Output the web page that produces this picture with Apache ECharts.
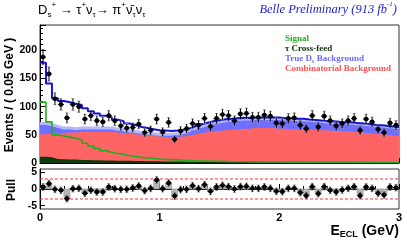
<!DOCTYPE html>
<html><head><meta charset="utf-8">
<script src="https://cdn.jsdelivr.net/npm/echarts@6/dist/echarts.min.js"></script>
<style>html,body{margin:0;padding:0;background:#fff}#c{width:407px;height:241px}</style>
</head><body><div id="c"></div>
<script>
// ---- data (60 bins of 0.05 GeV, E_ECL 0..3 GeV) ----
const binWidth = 0.05;
const nBins = 60;
const dataCounts = [188,158,114,104,80,104,100,78,84,75,73,84,75,66,62,63,69,54,58,78,55,72,42,57,61,70,67,79,65,79,86,84,75,87,88,81,81,85,83,71,70,79,80,67,61,84,64,83,75,66,70,75,79,58,78,73,60,54,71,67];
const crossFeed = [11,10,7,6.5,6,6,5.5,5.5,5,5,4.5,4.5,4,4,4,3.5,3.5,3,3,3,2.5,2.5,2.5,2.5,2,2,2,2,2,2,1.8,1.8,1.6,1.6,1.5,1.5,1.4,1.4,1.3,1.3,1.2,1.2,1.1,1.1,1,1,1,1,0.9,0.9,0.8,0.8,0.8,0.7,0.7,0.7,0.6,0.6,0.6,0.5];
const combinatorial = [40,42,46,46.5,48,48,49.5,49.5,50,50,50.5,50.5,50,49,48,47.5,46.5,46,45,44,43.5,43.5,43.5,44.5,47,49,51,53,54,55,56.2,57.2,58.4,59.4,59.5,60.5,60.6,60.6,60.7,59.7,59.8,58.8,58.9,58.9,58,58,57,57,56.1,56.1,55.2,55.2,54.2,53.3,52.3,51.3,50.4,49.4,48.4,47.5];
const trueDs = [19,16,12,9,8,7,7,7,7,7,7,7,6,6,5,5,4,4,4,4,5,5,6,7,8,10,12,13,15,16,17,17,17,17,17,17,17,17,17,18,17,18,17,17,17,16,16,15,16,15,15,15,15,15,15,15,15,15,15,15];
const signal = [108,73,50,48,46,44,41,35,30,26,22,19,17,15,13,11.5,10,9,8,7,6.5,6,5.5,5,4.5,4,3.6,3.3,3,2.8,2.6,2.4,2.3,2.2,2.1,2,1.9,1.8,1.7,1.7,1.6,1.6,1.5,1.5,1.4,1.4,1.3,1.3,1.3,1.2,1.2,1.2,1.1,1.1,1.1,1,1,1,1,1];
const pulls = [0.6,1.6,-0.1,-0.4,-2.9,0.1,0.2,-1.3,-0.4,-0.9,-0.9,0.6,0.1,-0.1,-0.1,0.3,0.9,-0.5,0.2,2.7,0.1,1.8,-2.1,-0.2,-0.1,1.0,0.1,1.3,-0.7,0.6,1.1,0.7,0,0.7,0.8,0.2,0.2,0.6,0.2,-0.7,-0.8,0.2,0.2,-1.1,-2.0,0.7,-1.4,0.7,-0.4,-0.9,-0.3,0.2,0.7,-2.0,0.6,0.2,-1.3,-1.8,0.6,0.4];
const yTickLabels = [0,50,100,150,200];
const pullTickLabels = [-5,0,5];
const pullBand = 3;

// ---- helpers ----
const centers = dataCounts.map((_, i) => (i + 0.5) * binWidth);
function hist(vals) {
  const out = vals.map((v, i) => [i * binWidth, v]);
  out.push([nBins * binWidth, vals[nBins - 1]]);
  return out;
}
// cumulative stack tops (drawn from zero, back to front)
const cfTop = crossFeed.slice();
const combTop = crossFeed.map((v, i) => v + combinatorial[i]);
const bgTop = combTop.map((v, i) => v + trueDs[i]);
const total = bgTop.map((v, i) => v + signal[i]);

const SANS = 'Liberation Sans, Arial, sans-serif';
const SERIF = 'Liberation Serif, Times New Roman, serif';

function pointItem(params, api) {
  const x = api.value(0), y = api.value(1), e = api.value(2);
  const c = api.coord([x, y]);
  const lo = api.coord([x, y - e]), hi = api.coord([x, y + e]);
  const l = api.coord([x - binWidth / 2, y]), r = api.coord([x + binWidth / 2, y]);
  return {type: 'group', children: [
    {type: 'line', shape: {x1: c[0] - 1.5, y1: hi[1], x2: c[0] + 1.5, y2: hi[1]}, style: {stroke: '#999', lineWidth: 1}},
    {type: 'line', shape: {x1: c[0] - 1.5, y1: lo[1], x2: c[0] + 1.5, y2: lo[1]}, style: {stroke: '#999', lineWidth: 1}},
    {type: 'line', shape: {x1: c[0], y1: hi[1], x2: c[0], y2: lo[1]}, style: {stroke: '#000', lineWidth: 1}},
    {type: 'line', shape: {x1: l[0], y1: c[1], x2: r[0], y2: c[1]}, style: {stroke: '#000', lineWidth: 1}},
    {type: 'circle', shape: {cx: c[0], cy: c[1], r: 2.4}, style: {fill: '#000'}}
  ]};
}
function pullBar(params, api) {
  const x = api.value(0), p = api.value(1);
  const a = api.coord([x - binWidth / 2, 0]), b = api.coord([x + binWidth / 2, p]);
  return {type: 'rect', shape: {x: a[0], y: Math.min(a[1], b[1]), width: b[0] - a[0], height: Math.abs(b[1] - a[1])},
          style: {fill: '#b8b8b8', stroke: '#8a8a8a', lineWidth: 0.6}};
}
function areaSeries(name, vals, color, z) {
  return {name: name, type: 'line', xAxisIndex: 0, yAxisIndex: 0, step: 'end', symbol: 'none',
    data: hist(vals), lineStyle: {width: 0}, areaStyle: {color: color, opacity: 1, origin: 'start'}, z: z};
}

const chart = echarts.init(document.getElementById('c'), null, {renderer: 'canvas'});
const axisCommon = {
  axisLine: {show: true, lineStyle: {color: '#000', width: 1}},
  splitLine: {show: false},
};
chart.setOption({
  animation: false,
  backgroundColor: '#fff',
  grid: [
    {left: 40, right: 8, top: 25, height: 138, show: true, borderColor: '#333', borderWidth: 1},
    {left: 40, right: 8, top: 169, height: 40, show: true, borderColor: '#333', borderWidth: 1}
  ],
  xAxis: [
    Object.assign({gridIndex: 0, type: 'value', min: 0, max: 3, interval: 1,
      axisLabel: {show: false},
      axisTick: {show: true, inside: true, length: 5, lineStyle: {color: '#000'}},
      minorTick: {show: true, splitNumber: 5, length: 3, lineStyle: {color: '#000'}}}, axisCommon),
    Object.assign({gridIndex: 1, type: 'value', min: 0, max: 3, interval: 1,
      axisLabel: {show: true, fontSize: 11, fontWeight: 'bold', fontFamily: SANS, color: '#000', margin: 3},
      axisTick: {show: true, inside: true, length: 5, lineStyle: {color: '#000'}},
      minorTick: {show: true, splitNumber: 5, length: 3, lineStyle: {color: '#000'}}}, axisCommon)
  ],
  yAxis: [
    Object.assign({gridIndex: 0, type: 'value', min: 0, max: 245, interval: 50,
      axisLabel: {show: true, customValues: yTickLabels, fontSize: 10.5, fontWeight: 'bold', fontFamily: SANS, color: '#000', margin: 3},
      axisTick: {show: true, inside: true, length: 6, lineStyle: {color: '#000'}},
      minorTick: {show: true, splitNumber: 5, length: 3, lineStyle: {color: '#000'}}}, axisCommon),
    Object.assign({gridIndex: 1, type: 'value', min: -6, max: 6,
      axisLabel: {show: true, customValues: pullTickLabels, fontSize: 10.5, fontWeight: 'bold', fontFamily: SANS, color: '#000', margin: 3},
      axisTick: {show: true, inside: true, length: 5, customValues: pullTickLabels, lineStyle: {color: '#000'}}}, axisCommon)
  ],
  series: [
    areaSeries('trueDs', bgTop, '#6f6fff', 1),
    areaSeries('comb', combTop, '#ff6464', 2),
    areaSeries('crossfeed', cfTop, '#0b3a0b', 3),
    {name: 'band', type: 'line', xAxisIndex: 0, yAxisIndex: 0, step: 'end', symbol: 'none',
      data: hist(bgTop), lineStyle: {width: 3, color: '#b4b8ff'}, z: 4},
    {name: 'signal', type: 'line', xAxisIndex: 0, yAxisIndex: 0, step: 'end', symbol: 'none',
      data: hist(signal), lineStyle: {width: 1.6, color: '#1fae1f'}, z: 5},
    {name: 'total', type: 'line', xAxisIndex: 0, yAxisIndex: 0, step: 'end', symbol: 'none',
      data: hist(total), lineStyle: {width: 2, color: '#1414d8'}, z: 6},
    {name: 'data', type: 'custom', xAxisIndex: 0, yAxisIndex: 0, renderItem: pointItem, clip: true,
      data: dataCounts.map((v, i) => [centers[i], v, Math.sqrt(v)]), z: 7},
    {name: 'pullbars', type: 'custom', xAxisIndex: 1, yAxisIndex: 1, renderItem: pullBar, clip: true,
      data: pulls.map((p, i) => [centers[i], p]), z: 2},
    {name: 'plus3', type: 'line', xAxisIndex: 1, yAxisIndex: 1, symbol: 'none',
      data: [[0, pullBand], [3, pullBand]], lineStyle: {color: '#ff3030', width: 1, type: [3, 2]}, z: 3},
    {name: 'minus3', type: 'line', xAxisIndex: 1, yAxisIndex: 1, symbol: 'none',
      data: [[0, -pullBand], [3, -pullBand]], lineStyle: {color: '#ff3030', width: 1, type: [3, 2]}, z: 3},
    {name: 'pullpts', type: 'custom', xAxisIndex: 1, yAxisIndex: 1, renderItem: pointItem, clip: true,
      data: pulls.map((p, i) => [centers[i], p, 1]), z: 4}
  ],
  graphic: [
    {type: 'text', left: 38, top: 1, style: {
      text: '{m|D}{sb|s}{sp|+}{m| → τ}{sp|+}{m|ν}{sb|τ}{m|→ π}{sp|+}{m|ν̄}{sb|τ}{m|ν}{sb|τ}',
      rich: {
        m: {fontSize: 13, fontFamily: SANS, fill: '#000', lineHeight: 18},
        sp: {fontSize: 8, fontFamily: SANS, fill: '#000', verticalAlign: 'top', lineHeight: 9},
        sb: {fontSize: 8, fontFamily: SANS, fill: '#000', verticalAlign: 'bottom', lineHeight: 9}
      }}},
    {type: 'text', right: 10, top: 1, style: {
      text: '{i|Belle Preliminary (913 fb}{s|-1}{i|)}',
      rich: {
        i: {fontSize: 12.5, fontFamily: SERIF, fontStyle: 'italic', fill: '#1c1cd0', lineHeight: 18},
        s: {fontSize: 7, fontFamily: SERIF, fontStyle: 'italic', fill: '#1c1cd0', verticalAlign: 'top', lineHeight: 9}
      }}},
    {type: 'text', left: 285, top: 34, style: {text: 'Signal', font: 'bold 9px ' + SERIF, fill: '#22b022'}},
    {type: 'text', left: 285, top: 44, style: {text: 'τ Cross-feed', font: 'bold 9px ' + SERIF, fill: '#0a300a'}},
    {type: 'text', left: 285, top: 54, style: {
      text: '{t|True D}{s|s}{t| Background}',
      rich: {t: {fontSize: 9, fontWeight: 'bold', fontFamily: SERIF, fill: '#6a6aff', lineHeight: 11},
             s: {fontSize: 6, fontWeight: 'bold', fontFamily: SERIF, fill: '#6a6aff', verticalAlign: 'bottom', lineHeight: 7}}}},
    {type: 'text', left: 285, top: 64, style: {text: 'Combinatorial Background', font: 'bold 9px ' + SERIF, fill: '#ff5050'}},
    {type: 'text', x: 10, y: 95, rotation: Math.PI / 2, style: {
      text: 'Events / ( 0.05 GeV )', font: 'bold 12px ' + SANS, fill: '#000', align: 'center', verticalAlign: 'middle'}},
    {type: 'text', x: 12, y: 190, rotation: Math.PI / 2, style: {
      text: 'Pull', font: 'bold 12px ' + SANS, fill: '#000', align: 'center', verticalAlign: 'middle'}},
    {type: 'text', right: 8, top: 224, style: {
      text: '{e|E}{s|ECL}{e| (GeV)}',
      rich: {e: {fontSize: 14, fontWeight: 'bold', fontFamily: SANS, fill: '#000', lineHeight: 17},
             s: {fontSize: 9, fontWeight: 'bold', fontFamily: SANS, fill: '#000', verticalAlign: 'bottom', lineHeight: 10}}}}
  ]
});
</script></body></html>
